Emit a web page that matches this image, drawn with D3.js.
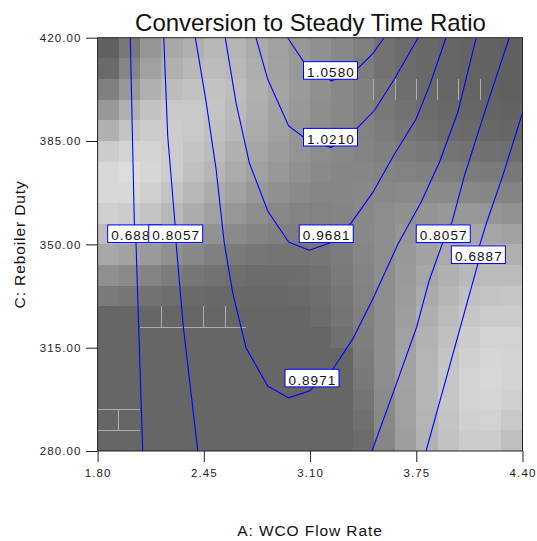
<!DOCTYPE html>
<html>
<head>
<meta charset="utf-8">
<script src="https://cdn.jsdelivr.net/npm/d3@7"></script>
<style>
  body { margin: 0; background: #fff; }
  text { font-family: Arial, "Liberation Sans", sans-serif; }
</style>
</head>
<body>
<svg id="chart" width="537" height="541"></svg>
<script>
// axis ticks
const flowTicks = [1.80, 2.45, 3.10, 3.75, 4.40];
const dutyTicks = [280, 315, 350, 385, 420];

// grey level of each grid cell, top row (duty 420) first, left column (flow 1.80) first
const shade = [
  [96,120,149,168,176,184,181,170,160,152,144,136,128,114,108,104,102,100,98,96],
  [106,133,160,176,184,188,184,174,162,152,144,136,124,114,108,104,102,100,98,96],
  [128,152,176,188,194,194,189,176,164,154,144,136,128,118,110,104,102,100,98,96],
  [152,176,194,200,200,196,186,174,162,152,142,136,128,120,114,108,104,102,100,98],
  [176,196,204,204,200,192,182,170,160,150,142,136,130,124,118,112,108,106,104,102],
  [204,212,212,204,196,188,176,166,156,148,140,136,132,128,124,120,116,114,112,110],
  [216,220,214,204,192,182,170,160,152,144,138,134,134,132,130,128,126,124,122,120],
  [216,216,208,196,184,172,162,152,144,138,134,134,136,136,138,138,138,136,134,132],
  [208,204,196,184,172,160,150,142,136,132,130,132,136,140,144,148,152,152,150,146],
  [188,184,176,166,156,146,138,132,128,126,126,130,136,142,150,158,164,166,166,162],
  [168,162,154,144,136,128,122,118,116,116,118,124,134,142,152,162,170,176,178,176],
  [144,138,132,124,118,114,110,108,108,110,114,122,132,142,154,166,176,184,188,188],
  [122,118,114,110,106,104,104,104,104,106,110,118,130,142,156,170,182,192,196,198],
  [102,102,102,102,102,102,102,102,102,102,108,116,128,142,158,174,188,198,204,204],
  [102,102,102,102,102,102,102,102,102,102,102,112,126,142,160,178,192,204,210,210],
  [102,102,102,102,102,102,102,102,102,102,102,102,124,142,162,180,196,208,214,212],
  [102,102,102,102,102,102,102,102,102,102,102,102,120,140,162,182,198,210,216,212],
  [102,102,102,102,102,102,102,102,102,102,102,102,116,138,160,182,198,210,214,208],
  [102,102,102,102,102,102,102,102,102,102,102,102,112,136,160,180,196,208,210,200],
  [102,102,102,102,102,102,102,102,102,102,102,102,108,134,158,178,194,204,204,190]
];

// contour lines as [flow, duty] points
const c0688left = [[2.000,420],[2.025,356.8],[2.035,350.6],[2.052,321],[2.076,280]];
const c0806left = [[2.205,420],[2.229,386.7],[2.274,356.8],[2.280,350.6],[2.324,322.3],[2.413,280]];
const c0897 = [[2.398,420],[2.463,398.6],[2.525,375.5],[2.575,350.5],[2.627,333.5],[2.708,315.0],
  [2.841,302.0],[2.969,298.0],[3.095,300.3],[3.239,307.7],[3.361,317.9],[3.487,331.8],[3.638,350.1],
  [3.781,364.4],[3.893,378.0],[4.005,394.9],[4.117,420]];
const c0968 = [[2.581,420],[2.647,398.0],[2.728,377.7],[2.841,361.3],[2.969,350.8],[3.095,348.0],
  [3.228,350.6],[3.351,357.2],[3.483,367.5],[3.616,380.5],[3.748,392.4],[3.830,403.6],[3.932,420]];
const c1021 = [[2.769,420],[2.841,405.9],[2.969,390.1],[3.065,386.1],[3.228,382.8],[3.389,389.4],
  [3.496,395.5],[3.618,406.2],[3.761,420]];
const c1058 = [[2.963,420],[3.065,411.5],[3.231,405.3],[3.393,409.6],[3.485,414.7],[3.553,420]];
const c0806right = [[4.319,420],[4.169,394.9],[4.046,373.5],[3.969,357.6],[3.912,350.6],[3.828,337.6],
  [3.753,322.1],[3.626,302.4],[3.479,280]];
const c0688right = [[4.400,394.6],[4.279,373.2],[4.177,356.8],[4.136,349.4],[4.126,343.2],[3.810,280]];
const contourLines = [c0688left, c0806left, c0897, c0968, c1021, c1058, c0806right, c0688right];

// contour labels and where they sit
const labelText = ['0.6887', '0.8057', '1.0580', '1.0210', '0.9681', '0.8971', '0.8057', '0.6887'];
const labelAt = [[2.027,353.6],[2.278,353.6],[3.225,408.9],[3.225,386.3],[3.199,353.6],[3.112,304.7],[3.915,353.6],[4.130,346.5]];

// faint seams between cells that show through the shading
const seams = [
  [2.06,322,2.71,322],[2.19,329,2.19,322],[2.45,329,2.45,322],[2.58,329,2.58,322],
  [1.80,294,2.06,294],[1.80,287,2.06,287],[1.93,294,1.93,287],
  [2.84,406,2.84,399],[3.49,406,3.49,399],[3.62,406,3.62,399],[3.75,406,3.75,399],
  [3.88,406,3.88,399],[4.01,406,4.01,399],[4.14,406,4.14,399]
];

const plotLeft = 97.6, plotRight = 522.5, plotTop = 37.7, plotBottom = 451;

const svg = d3.select('#chart');

const x = d3.scaleLinear().domain([1.8, 4.4]).range([plotLeft, plotRight]);
const y = d3.scaleLinear().domain([280, 420]).range([plotBottom, plotTop]);

const nCols = shade[0].length, nRows = shade.length;
const colStep = (4.4 - 1.8) / nCols, rowStep = (420 - 280) / nRows;

const defs = svg.append('defs');
defs.append('clipPath').attr('id', 'plot')
  .append('rect')
  .attr('x', plotLeft).attr('y', plotTop)
  .attr('width', plotRight - plotLeft).attr('height', plotBottom - plotTop);

// shaded grid
const cells = [];
shade.forEach((row, r) => row.forEach((g, c) => cells.push({ r, c, g })));

svg.append('g')
  .attr('shape-rendering', 'crispEdges')
  .selectAll('rect')
  .data(cells)
  .enter()
  .append('rect')
  .attr('x', d => Math.round(x(1.8 + d.c * colStep)))
  .attr('y', d => Math.round(y(420 - d.r * rowStep)))
  .attr('width', d => Math.round(x(1.8 + (d.c + 1) * colStep)) - Math.round(x(1.8 + d.c * colStep)))
  .attr('height', d => Math.round(y(420 - (d.r + 1) * rowStep)) - Math.round(y(420 - d.r * rowStep)))
  .attr('fill', d => d3.rgb(d.g, d.g, d.g));

svg.append('g')
  .attr('shape-rendering', 'crispEdges')
  .selectAll('line')
  .data(seams)
  .enter()
  .append('line')
  .attr('x1', d => x(d[0])).attr('y1', d => y(d[1]))
  .attr('x2', d => x(d[2])).attr('y2', d => y(d[3]))
  .attr('stroke', '#adadad')
  .attr('stroke-width', 1);

// contour lines
const line = d3.line().x(d => x(d[0])).y(d => y(d[1]));

svg.append('g')
  .attr('clip-path', 'url(#plot)')
  .selectAll('path')
  .data(contourLines)
  .enter()
  .append('path')
  .attr('d', line)
  .attr('fill', 'none')
  .attr('stroke', '#0000ff')
  .attr('stroke-width', 1.1);

// labels; a label whose box is partly covered by the next one is clipped there
const boxW = 54, boxH = 17.6;
const labelData = labelText.map((t, i) => ({ t, at: labelAt[i], i }));
labelData.forEach((d, i) => {
  const next = labelData[i + 1];
  d.clipW = boxW;
  if (next && Math.abs(next.at[1] - d.at[1]) < 1) {
    const gap = x(next.at[0]) - x(d.at[0]);
    if (gap < boxW) d.clipW = boxW / 2 + gap - boxW / 2;
  }
  if (d.clipW < boxW) {
    defs.append('clipPath').attr('id', 'lab' + i)
      .append('rect')
      .attr('x', -boxW / 2 - 1).attr('y', -boxH / 2 - 1)
      .attr('width', d.clipW + 1).attr('height', boxH + 2);
  }
});

const labels = svg.append('g')
  .selectAll('g')
  .data(labelData)
  .enter()
  .append('g')
  .attr('transform', d => `translate(${x(d.at[0])},${y(d.at[1])})`);

labels.append('rect')
  .attr('x', -boxW / 2).attr('y', -boxH / 2)
  .attr('width', boxW).attr('height', boxH)
  .attr('fill', '#fff')
  .attr('stroke', '#0000ff')
  .attr('stroke-width', 1);

labels.append('text')
  .attr('x', 0.5).attr('y', 6.6)
  .attr('text-anchor', 'middle')
  .attr('font-size', 13.5)
  .attr('letter-spacing', 1.1)
  .attr('fill', '#111')
  .attr('clip-path', d => d.clipW < boxW ? `url(#lab${d.i})` : null)
  .text(d => d.t);

// frame
svg.append('rect')
  .attr('x', plotLeft).attr('y', plotTop)
  .attr('width', plotRight - plotLeft).attr('height', plotBottom - plotTop)
  .attr('fill', 'none')
  .attr('stroke', '#222')
  .attr('stroke-width', 1);

// axes
const xAxis = svg.append('g')
  .attr('transform', `translate(0,${plotBottom})`)
  .call(d3.axisBottom(x).tickValues(flowTicks).tickFormat(d3.format('.2f')).tickSize(11).tickPadding(6.5));

const yAxis = svg.append('g')
  .attr('transform', `translate(${plotLeft},0)`)
  .call(d3.axisLeft(y).tickValues(dutyTicks).tickFormat(d3.format('.2f')).tickSize(11.6).tickPadding(4.5));

[xAxis, yAxis].forEach(a => {
  a.select('.domain').remove();
  a.selectAll('line').attr('stroke', '#222');
  a.selectAll('text')
    .attr('font-family', 'Arial, "Liberation Sans", sans-serif')
    .attr('font-size', 11.5)
    .attr('letter-spacing', 1.1)
    .attr('fill', '#222');
});

// titles
svg.append('text')
  .attr('x', 310.5).attr('y', 30.7)
  .attr('text-anchor', 'middle')
  .attr('font-size', 24)
  .attr('fill', '#111')
  .text('Conversion to Steady Time Ratio');

svg.append('text')
  .attr('x', 310).attr('y', 536)
  .attr('text-anchor', 'middle')
  .attr('font-size', 15.5)
  .attr('letter-spacing', 0.9)
  .attr('fill', '#111')
  .text('A: WCO Flow Rate');

svg.append('text')
  .attr('transform', `translate(25,${(plotTop + plotBottom) / 2}) rotate(-90)`)
  .attr('text-anchor', 'middle')
  .attr('font-size', 15.5)
  .attr('letter-spacing', 0.9)
  .attr('fill', '#111')
  .text('C: Reboiler Duty');
</script>
</body>
</html>
